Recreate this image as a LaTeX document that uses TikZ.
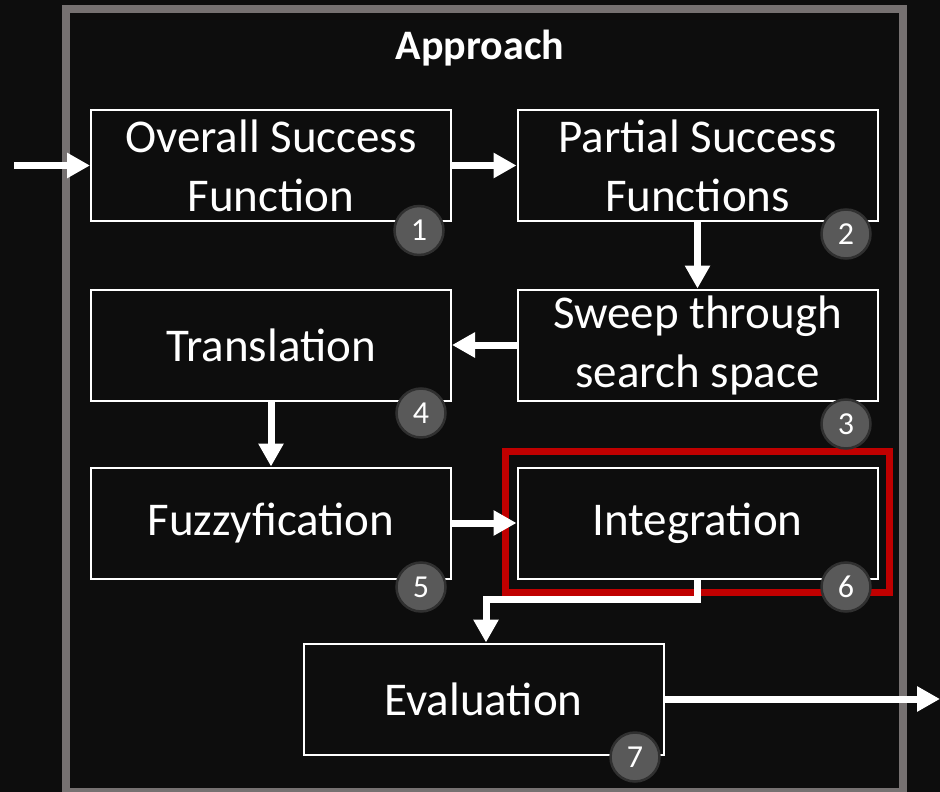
\documentclass[tikz,border=0pt]{standalone}
\usepackage{fontspec}
\setmainfont{Carlito}
\usetikzlibrary{arrows.meta}
\definecolor{bg}{HTML}{0D0D0D}
\definecolor{framegray}{HTML}{767171}
\definecolor{badgefill}{HTML}{595959}
\definecolor{badgeline}{HTML}{303030}
\definecolor{hlred}{HTML}{C00000}
\begin{document}
\begin{tikzpicture}[x=1pt,y=-1pt,
  stepbox/.style={draw=white, line width=2pt, fill=bg, text=white,
    minimum width=360pt, minimum height=111pt, inner sep=0pt, align=center,
    font=\fontsize{47}{59}\selectfont},
  badge/.style={circle, fill=badgefill, draw=badgeline, line width=2.5pt,
    minimum size=49pt, inner sep=0pt, text=white,
    font=\fontsize{32}{32}\selectfont},
  flow/.style={draw=white, line width=7pt,
    -{Triangle[length=23pt,width=24pt]}},
]
\useasboundingbox (0,0) rectangle (940,792);
\clip (0,0) rectangle (940,792);
\fill[bg] (0,0) rectangle (940,792);
\draw[framegray, line width=8pt] (66,9) rectangle (902.5,792);

\node[text=white, font=\bfseries\fontsize{42}{50}\selectfont] (title) at (480,48) {Approach};

\node[stepbox] (b1) at (271,165.5) {Overall Success\\Function};
\node[stepbox] (b2) at (697.5,165.5) {Partial Success\\Functions};
\node[stepbox] (b3) at (697.5,345) {Sweep through\\search space};
\node[stepbox] (b4) at (271,345) {Translation};
\node[stepbox] (b5) at (271,523) {Fuzzyfication};
\node[stepbox] (b6) at (697.5,523) {Integration};
\node[stepbox] (b7) at (483.5,699) {Evaluation};

\node[draw=hlred, line width=7pt, minimum width=384pt, minimum height=141pt, inner sep=0pt] (hl) at (697.5,522) {};

\coordinate (in) at (14,165.5);
\coordinate (out) at (940,699);
\draw[flow] (in) -- (b1.west);
\draw[flow] (b1) -- (b2);
\draw[flow] (b2) -- (b3);
\draw[flow] (b3) -- (b4);
\draw[flow] (b4) -- (b5);
\draw[flow] (b5) -- (b6);
\draw[flow] (b6.south) -- ++(0,20) -| ([xshift=2.5pt]b7.north);
\draw[flow] (b7.east) -- (out);

\node[badge] (c1) at (419,230.5) {1};
\node[badge] (c2) at (846,234) {2};
\node[badge] (c3) at (846,424) {3};
\node[badge] (c4) at (421,413) {4};
\node[badge] (c5) at (421,587) {5};
\node[badge] (c6) at (846,587) {6};
\node[badge] (c7) at (635,757) {7};
\end{tikzpicture}
\end{document}
